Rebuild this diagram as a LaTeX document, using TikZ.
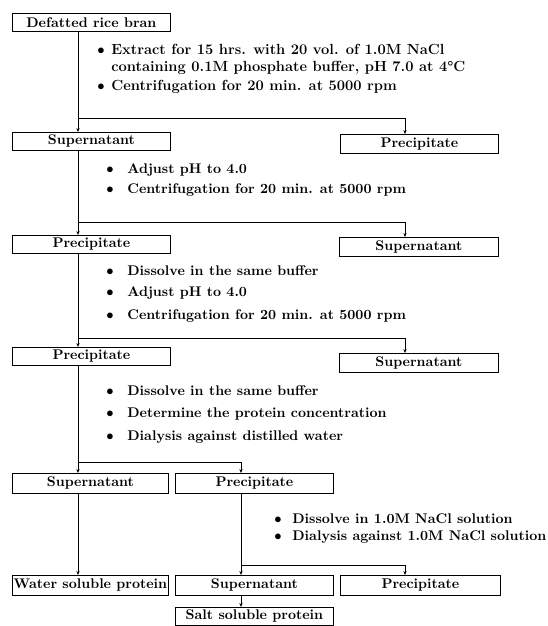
\documentclass[tikz,border=0pt]{standalone}
\usepackage{fontspec}
\usepackage{tikz}
\usetikzlibrary{arrows.meta,calc}
\newcommand{\fsz}{\fontsize{10.5}{12}\selectfont}
\newcommand{\bul}[1]{\makebox[#1][l]{$\bullet$}}

\begin{document}
\begin{tikzpicture}[x=0.75pt,y=-0.75pt,line width=0.6pt,
  box/.style={draw,anchor=north west,inner xsep=1pt,inner ysep=0pt,
    minimum width=118.5pt,minimum height=13.5pt,font=\fsz\bfseries},
  note/.style={anchor=west,inner sep=0pt,font=\fsz\bfseries},
  link/.style={-{Stealth[length=3pt,width=2.5pt]}}]
\useasboundingbox (0,0) rectangle (548,626);
% columns of the connectors
\coordinate (L) at (78,0);
\coordinate (M) at (241,0);
\coordinate (R) at (405,0);
\coordinate (j1) at (78,118);
\coordinate (j2) at (78,222);
\coordinate (j3) at (78,338);
\coordinate (j4) at (78,462);
\coordinate (j5) at (241,565);
% boxes
\node[box] (bran) at (12,13) {Defatted rice bran};
\node[box] (sup1) at (12,132) {Supernatant};
\node[box,minimum height=14.25pt] (prec1) at (340,134) {Precipitate};
\node[box] (prec2) at (12,235) {Precipitate};
\node[box,minimum width=119.25pt,minimum height=14.25pt] (sup2) at (339,237) {Supernatant};
\node[box] (prec3) at (12,347) {Precipitate};
\node[box,minimum width=119.25pt,minimum height=14.25pt] (sup3) at (339,353) {Supernatant};
\node[box,minimum width=117pt,minimum height=15pt] (sup4) at (12,473) {Supernatant};
\node[box,minimum height=15pt] (prec4) at (175,473) {Precipitate};
\node[box,minimum width=117pt,minimum height=15pt] (water) at (12,575) {Water soluble protein};
\node[box,minimum height=15pt] (sup5) at (175,575) {Supernatant};
\node[box,minimum width=120pt,minimum height=15pt] (prec5) at (340,575) {Precipitate};
\node[box] (salt) at (175,607) {Salt soluble protein};
% steps
\node[note,font=\fontsize{11}{12}\selectfont\bfseries] (t1a) at (97,49) {\bul{10.5pt}Extract for 15 hrs. with 20 vol. of 1.0M NaCl};
\node[note,font=\fontsize{11}{12}\selectfont\bfseries] (t1b) at (111,68) {containing 0.1M phosphate buffer, pH 7.0 at 4°C};
\node[note,font=\fontsize{11}{12}\selectfont\bfseries] (t1c) at (97,87) {\bul{10.5pt}Centrifugation for 20 min. at 5000 rpm};
\node[note] (t2a) at (106,170) {\bul{15.75pt}Adjust pH to 4.0};
\node[note] (t2b) at (106,190) {\bul{15.75pt}Centrifugation for 20 min. at 5000 rpm};
\node[note] (t3a) at (106,271) {\bul{15.75pt}Dissolve in the same buffer};
\node[note] (t3b) at (106,293) {\bul{15.75pt}Adjust pH to 4.0};
\node[note] (t3c) at (106,316) {\bul{15.75pt}Centrifugation for 20 min. at 5000 rpm};
\node[note] (t4a) at (106,391) {\bul{15.75pt}Dissolve in the same buffer};
\node[note] (t4b) at (106,414) {\bul{15.75pt}Determine the protein concentration};
\node[note] (t4c) at (106,437) {\bul{15.75pt}Dialysis against distilled water};
\node[note] (t5a) at (274,519) {\bul{13.5pt}Dissolve in 1.0M NaCl solution};
\node[note] (t5b) at (274,537) {\bul{13.5pt}Dialysis against 1.0M NaCl solution};
% connectors
\draw[link] (bran.south -| L) -- (sup1.north -| L);
\draw[link] (j1) -| (prec1.north -| R);
\draw[link] (sup1.south -| L) -- (prec2.north -| L);
\draw[link] (j2) -| (sup2.north -| R);
\draw[link] (prec2.south -| L) -- (prec3.north -| L);
\draw[link] (j3) -| (sup3.north -| R);
\draw[link] (prec3.south -| L) -- (sup4.north -| L);
\draw[link] (j4) -| (prec4.north -| M);
\draw[link] (sup4.south -| L) -- (water.north -| L);
\draw[link] (prec4.south -| M) -- (sup5.north -| M);
\draw[link] (j5) -| (prec5.north -| R);
\draw[link] (sup5.south -| M) -- (salt.north -| M);
\end{tikzpicture}
\end{document}
